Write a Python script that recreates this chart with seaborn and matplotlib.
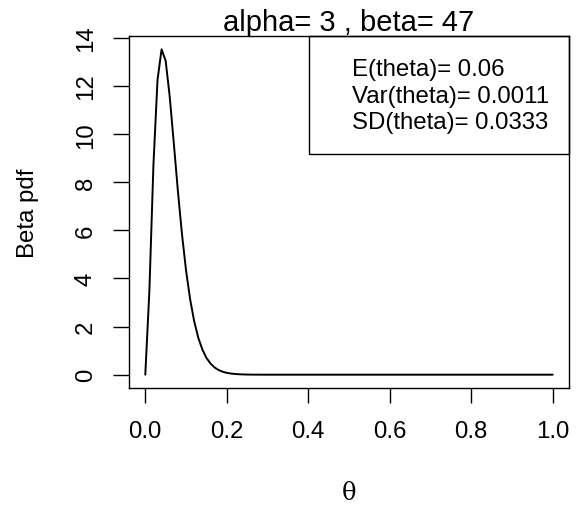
import numpy as np
import pandas as pd
import matplotlib
matplotlib.use("Agg")
import matplotlib.pyplot as plt
from matplotlib.patches import Rectangle
import seaborn as sns

# theta grid (step 0.01) and Beta pdf values
theta = [round(i * 0.01, 2) for i in range(101)]
pdf = [0.0, 3.48, 8.73, 12.26, 13.53, 13.05, 11.55, 9.62, 7.64, 5.85,
       4.34, 3.14, 2.22, 1.54, 1.05, 0.70, 0.465, 0.30, 0.194, 0.123,
       0.077, 0.048, 0.029, 0.018, 0.0105, 0.006, 0.003, 0.002, 0.001, 0.0,
       0.0, 0.0, 0.0, 0.0, 0.0, 0.0, 0.0, 0.0, 0.0, 0.0,
       0.0, 0.0, 0.0, 0.0, 0.0, 0.0, 0.0, 0.0, 0.0, 0.0,
       0.0, 0.0, 0.0, 0.0, 0.0, 0.0, 0.0, 0.0, 0.0, 0.0,
       0.0, 0.0, 0.0, 0.0, 0.0, 0.0, 0.0, 0.0, 0.0, 0.0,
       0.0, 0.0, 0.0, 0.0, 0.0, 0.0, 0.0, 0.0, 0.0, 0.0,
       0.0, 0.0, 0.0, 0.0, 0.0, 0.0, 0.0, 0.0, 0.0, 0.0,
       0.0, 0.0, 0.0, 0.0, 0.0, 0.0, 0.0, 0.0, 0.0, 0.0,
       0.0]
xticks = [0.0, 0.2, 0.4, 0.6, 0.8, 1.0]
xtick_labels = ["0.0", "0.2", "0.4", "0.6", "0.8", "1.0"]
yticks = [0, 2, 4, 6, 8, 10, 12, 14]
title = "alpha= 3 , beta= 47"
legend_lines = ["E(theta)= 0.06", "Var(theta)= 0.0011", "SD(theta)= 0.0333"]

sns.set_style("white")
plt.rcParams["font.family"] = ["Liberation Sans", "DejaVu Sans"]
plt.rcParams["text.color"] = "black"
plt.rcParams["axes.labelcolor"] = "black"
plt.rcParams["xtick.color"] = "black"
plt.rcParams["ytick.color"] = "black"

df = pd.DataFrame({"theta": theta, "pdf": pdf})

FS = 17.3

fig = plt.figure(figsize=(5.81, 5.06), dpi=100)
ax = fig.add_axes([129 / 581, 1 - 388.7 / 506, 440 / 581, 351.4 / 506])
sns.lineplot(data=df, x="theta", y="pdf", ax=ax, color="black", linewidth=1.4)

ymax = max(pdf)
ax.set_xlim(-0.04, 1.04)
ax.set_ylim(-0.04 * ymax, ymax * 1.04)

for s in ax.spines.values():
    s.set_visible(True)
    s.set_color("black")
    s.set_linewidth(1.0)

ax.set_xticks(xticks)
ax.set_xticklabels(xtick_labels)
ax.set_yticks(yticks)
ax.set_yticklabels([str(v) for v in yticks], rotation=90, va="center")
ax.tick_params(axis="x", which="both", direction="out", length=10.5, width=1.0,
               color="black", labelcolor="black", labelsize=FS, pad=12.5, bottom=True)
ax.tick_params(axis="y", which="both", direction="out", length=11.5, width=1.0,
               color="black", labelcolor="black", labelsize=FS, pad=11.7, left=True)

ax.set_xlabel("θ", family=["DejaVu Serif"], fontsize=FS, labelpad=28.5, color="black")
ax.set_ylabel("Beta pdf", fontsize=FS, labelpad=26, color="black")
ax.set_title(title, fontsize=21, pad=2, color="black")

# legend box (top-right, no symbols)
ax.add_patch(Rectangle((0.409, 0.665), 0.591, 0.335, transform=ax.transAxes,
                       fill=False, edgecolor="black", linewidth=1.0, clip_on=False))
for txt, yy in zip(legend_lines, [0.907, 0.830, 0.756]):
    ax.text(0.507, yy, txt, transform=ax.transAxes, fontsize=FS,
            ha="left", va="center", color="black")

fig.savefig("out.png", dpi=100)
